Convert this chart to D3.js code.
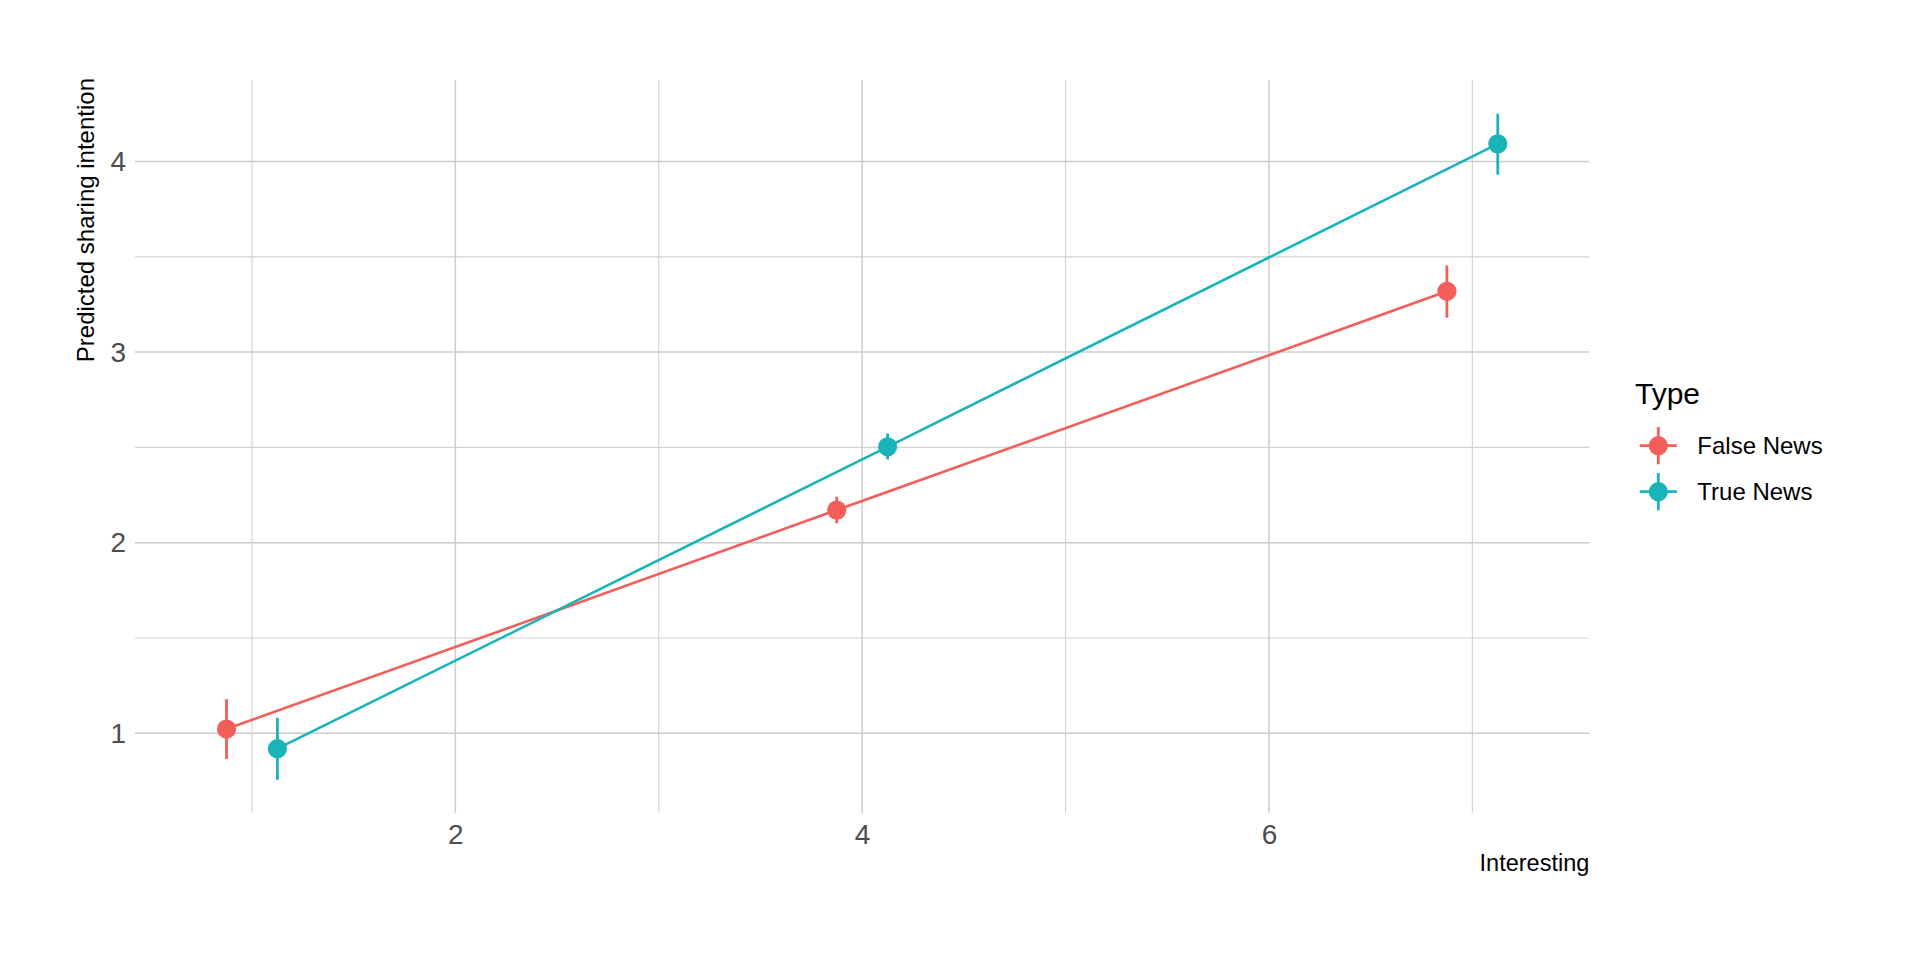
<!DOCTYPE html>
<html>
<head>
<meta charset="utf-8">
<script src="https://cdn.jsdelivr.net/npm/d3@7"></script>
<style>
  html, body { margin: 0; padding: 0; background: #fff; }
  svg { display: block; font-family: "Liberation Sans", Arial, Helvetica, sans-serif; }
</style>
</head>
<body>
<svg id="chart" width="1920" height="960"></svg>
<script>
// ---- data ----
const categories = [1, 4, 7];            // Interesting
const seriesNames = ["False News", "True News"];
const falseY  = [1.022, 2.171, 3.319];
const falseLo = [0.865, 2.102, 3.181];
const falseHi = [1.179, 2.241, 3.455];
const trueY   = [0.919, 2.503, 4.093];
const trueLo  = [0.756, 2.437, 3.931];
const trueHi  = [1.081, 2.573, 4.251];
const xTicks = [2, 4, 6];
const xMinor = [1, 3, 5, 7];
const yTicks = [1, 2, 3, 4];
const yMinor = [1.5, 2.5, 3.5];
const dodge = [-0.125, 0.125];
const colors = ["#F35E5A", "#18B4B8"];

const series = [
  { name: seriesNames[0], y: falseY, lo: falseLo, hi: falseHi },
  { name: seriesNames[1], y: trueY,  lo: trueLo,  hi: trueHi }
];

// ---- layout ----
const panel = { left: 135, right: 1589.3, top: 80, bottom: 812.7 };
const svg = d3.select("#chart");

const x = d3.scaleLinear().domain([0.425, 7.575]).range([panel.left, panel.right]);
const y = d3.scaleLinear().domain([0.583, 4.428]).range([panel.bottom, panel.top]);

const grid = svg.append("g");
// minor grid
grid.selectAll("line.xminor").data(xMinor).join("line")
  .attr("x1", d => x(d)).attr("x2", d => x(d))
  .attr("y1", panel.top).attr("y2", panel.bottom)
  .attr("stroke", "#D2D2D2").attr("stroke-width", 1.1);
grid.selectAll("line.yminor").data(yMinor).join("line")
  .attr("y1", d => y(d)).attr("y2", d => y(d))
  .attr("x1", panel.left).attr("x2", panel.right)
  .attr("stroke", "#D2D2D2").attr("stroke-width", 1.1);
// major grid
grid.selectAll("line.xmajor").data(xTicks).join("line")
  .attr("x1", d => x(d)).attr("x2", d => x(d))
  .attr("y1", panel.top).attr("y2", panel.bottom)
  .attr("stroke", "#CCCCCC").attr("stroke-width", 1.5);
grid.selectAll("line.ymajor").data(yTicks).join("line")
  .attr("y1", d => y(d)).attr("y2", d => y(d))
  .attr("x1", panel.left).attr("x2", panel.right)
  .attr("stroke", "#CCCCCC").attr("stroke-width", 1.5);

// axes (labels only, via d3 axes)
const xAxis = svg.append("g")
  .attr("transform", `translate(0,${panel.bottom})`)
  .call(d3.axisBottom(x).tickValues(xTicks).tickSize(0).tickPadding(11).tickFormat(d3.format("d")));
xAxis.select(".domain").remove();
xAxis.selectAll("text").attr("font-size", 28).attr("fill", "#4D4D4D")
  .attr("font-family", "Liberation Sans, Arial, sans-serif");

const yAxis = svg.append("g")
  .attr("transform", `translate(${panel.left},0)`)
  .call(d3.axisLeft(y).tickValues(yTicks).tickSize(0).tickPadding(9).tickFormat(d3.format("d")));
yAxis.select(".domain").remove();
yAxis.selectAll("text").attr("font-size", 28).attr("fill", "#4D4D4D")
  .attr("font-family", "Liberation Sans, Arial, sans-serif");

// axis titles
svg.append("text")
  .attr("x", panel.right).attr("y", 871)
  .attr("text-anchor", "end").attr("font-size", 23.5).attr("fill", "#000")
  .text("Interesting");
svg.append("text")
  .attr("transform", `translate(94,${panel.top - 2}) rotate(-90)`)
  .attr("text-anchor", "end").attr("font-size", 24).attr("fill", "#000")
  .text("Predicted sharing intention");

// marks
const marks = svg.append("g");
series.forEach((s, i) => {
  const pts = categories.map((c, j) => ({ x: c + dodge[i], y: s.y[j], lo: s.lo[j], hi: s.hi[j] }));
  const g = marks.append("g");
  g.append("path")
    .datum(pts)
    .attr("fill", "none").attr("stroke", colors[i]).attr("stroke-width", 2.6)
    .attr("d", d3.line().x(d => x(d.x)).y(d => y(d.y)));
  g.selectAll("line.err").data(pts).join("line")
    .attr("x1", d => x(d.x)).attr("x2", d => x(d.x))
    .attr("y1", d => y(d.lo)).attr("y2", d => y(d.hi))
    .attr("stroke", colors[i]).attr("stroke-width", 2.8);
  g.selectAll("circle").data(pts).join("circle")
    .attr("cx", d => x(d.x)).attr("cy", d => y(d.y)).attr("r", 9.6)
    .attr("fill", colors[i]);
});

// legend
const legend = svg.append("g");
legend.append("text")
  .attr("x", 1635).attr("y", 404).attr("font-size", 30).attr("fill", "#000")
  .text("Type");
const keyY = [445.7, 491.7];
series.forEach((s, i) => {
  const cx = 1658.3, cy = keyY[i];
  legend.append("line").attr("x1", cx - 18.6).attr("x2", cx + 18.6).attr("y1", cy).attr("y2", cy)
    .attr("stroke", colors[i]).attr("stroke-width", 2.8);
  legend.append("line").attr("x1", cx).attr("x2", cx).attr("y1", cy - 18.6).attr("y2", cy + 18.6)
    .attr("stroke", colors[i]).attr("stroke-width", 2.8);
  legend.append("circle").attr("cx", cx).attr("cy", cy).attr("r", 9.6).attr("fill", colors[i]);
  legend.append("text").attr("x", 1697.3).attr("y", cy + 8.6)
    .attr("font-size", 24).attr("fill", "#000").text(s.name);
});
</script>
</body>
</html>
